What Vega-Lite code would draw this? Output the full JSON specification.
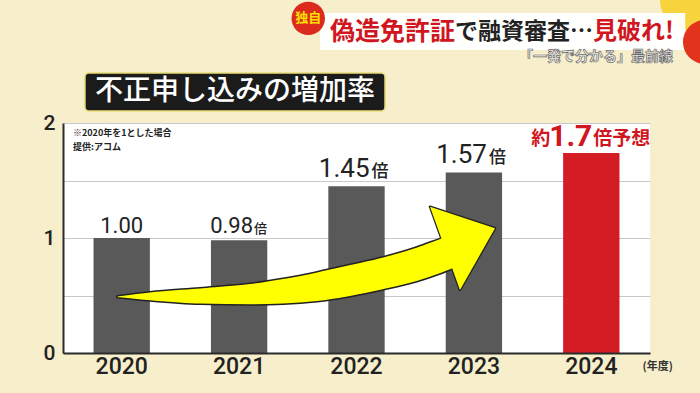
{
  "$schema": "https://vega.github.io/schema/vega-lite/v6.json",
  "width": 587,
  "height": 230,
  "autosize": {"type": "none"},
  "padding": {"left": 63, "top": 123, "right": 50, "bottom": 40},
  "background": "#f7eecb",
  "config": {
    "view": {"fill": "#ffffff", "stroke": null},
    "text": {"font": "Noto Sans CJK JP"}
  },
  "datasets": {
    "bars": [
      {"year": "2020", "value": 1.0, "label": "1.00", "prefix": "", "suffix": ""},
      {"year": "2021", "value": 0.98, "label": "0.98", "prefix": "", "suffix": "倍"},
      {"year": "2022", "value": 1.45, "label": "1.45", "prefix": "", "suffix": "倍"},
      {"year": "2023", "value": 1.57, "label": "1.57", "prefix": "", "suffix": "倍"},
      {"year": "2024", "value": 1.74, "label": "1.7", "prefix": "約", "suffix": "倍予想"}
    ],
    "arrow": [
      {"u": 0.46, "top": 0.498, "bot": 0.481},
      {"u": 0.741, "top": 0.533, "bot": 0.452},
      {"u": 1.167, "top": 0.568, "bot": 0.423},
      {"u": 1.593, "top": 0.606, "bot": 0.417},
      {"u": 1.874, "top": 0.65, "bot": 0.423},
      {"u": 2.164, "top": 0.707, "bot": 0.446},
      {"u": 2.445, "top": 0.771, "bot": 0.49},
      {"u": 2.726, "top": 0.837, "bot": 0.548},
      {"u": 3.015, "top": 0.924, "bot": 0.62},
      {"u": 3.211, "top": 0.997, "bot": 0.687},
      {"u": 3.339, "top": 1.043, "bot": 0.739}
    ]
  },
  "layer": [
    {
      "data": {"name": "bars"},
      "encoding": {
        "x": {
          "field": "year", "type": "nominal",
          "scale": {"paddingInner": 0.52, "paddingOuter": 0.26},
          "axis": {
            "title": "(年度)", "titleX": 579, "titleY": 13, "titleAlign": "left", "titleAnchor": null,
            "titleBaseline": "middle", "titleFontSize": 11, "titleFont": "Noto Sans CJK JP", "titleFontWeight": "bold", "titleColor": "#333333",
            "labelAngle": 0, "labelFont": "Roboto", "labelFontWeight": 500, "labelFontSize": 23, "labelColor": "#222222",
            "labelBaseline": "middle", "labelPadding": 13,
            "ticks": false, "tickSize": 0, "grid": false,
            "domainColor": "#2b2b2b", "domainWidth": 2, "zindex": 1
          }
        },
        "y": {
          "field": "value", "type": "quantitative",
          "scale": {"domain": [0, 2], "nice": false},
          "axis": {
            "title": null, "values": [0, 0.5, 1, 1.5, 2],
            "labelExpr": "datum.value % 1 === 0 ? format(datum.value, 'd') : ''",
            "labelFont": "Roboto", "labelFontWeight": 500, "labelFontSize": 21, "labelColor": "#222222", "labelPadding": 8,
            "ticks": false, "tickSize": 0,
            "grid": true, "gridColor": "#c8c8c8", "gridWidth": 1,
            "domainColor": "#2b2b2b", "domainWidth": 2
          }
        }
      },
      "layer": [
        {
          "mark": {"type": "bar"},
          "encoding": {
            "color": {"condition": {"test": "datum.year === '2024'", "value": "#d31c24"}, "value": "#595959"}
          }
        },
        {
          "transform": [{"filter": "datum.year === '2020'"}],
          "mark": {"type": "text", "align": "center", "baseline": "alphabetic", "dy": -5, "fontSize": 22, "font": "Roboto", "fontWeight": "normal", "fill": "#222222"},
          "encoding": {"text": {"field": "label"}}
        },
        {
          "transform": [{"filter": "datum.year === '2021'"}],
          "mark": {"type": "text", "align": "right", "baseline": "alphabetic", "dx": 14, "dy": -7, "fontSize": 22, "font": "Roboto", "fontWeight": "normal", "fill": "#222222"},
          "encoding": {"text": {"field": "label"}}
        },
        {
          "transform": [{"filter": "datum.year === '2021'"}],
          "mark": {"type": "text", "align": "left", "baseline": "alphabetic", "dx": 15, "dy": -7, "fontSize": 13, "fontWeight": 500, "fill": "#222222"},
          "encoding": {"text": {"field": "suffix"}}
        },
        {
          "transform": [{"filter": "datum.year === '2022' || datum.year === '2023'"}],
          "mark": {"type": "text", "align": "right", "baseline": "alphabetic", "dx": 13, "dy": -9, "fontSize": 26, "font": "Roboto", "fontWeight": "normal", "fill": "#222222"},
          "encoding": {"text": {"field": "label"}}
        },
        {
          "transform": [{"filter": "datum.year === '2022' || datum.year === '2023'"}],
          "mark": {"type": "text", "align": "left", "baseline": "alphabetic", "dx": 15, "dy": -9, "fontSize": 17, "fontWeight": 500, "fill": "#222222"},
          "encoding": {"text": {"field": "suffix"}}
        },
        {
          "transform": [{"filter": "datum.year === '2024'"}],
          "mark": {"type": "text", "align": "right", "baseline": "alphabetic", "dx": -41, "dy": -8, "fontSize": 19, "fontWeight": "bold", "fill": "#d0161f"},
          "encoding": {"text": {"field": "prefix"}}
        },
        {
          "transform": [{"filter": "datum.year === '2024'"}],
          "mark": {"type": "text", "align": "right", "baseline": "alphabetic", "dx": 1, "dy": -7, "fontSize": 30, "font": "Roboto", "fontWeight": "bold", "fill": "#d0161f"},
          "encoding": {"text": {"field": "label"}}
        },
        {
          "transform": [{"filter": "datum.year === '2024'"}],
          "mark": {"type": "text", "align": "left", "baseline": "alphabetic", "dx": 2, "dy": -8, "fontSize": 19, "fontWeight": "bold", "fill": "#d0161f"},
          "encoding": {"text": {"field": "suffix"}}
        }
      ]
    },
    {
      "layer": [
        {
          "data": {"values": [{}]},
          "mark": {"type": "point", "shape": "circle", "filled": true, "size": 3600, "fill": "#f6cf2e", "opacity": 0.9, "stroke": null},
          "encoding": {
            "x": {"datum": 5.34, "type": "quantitative", "scale": {"domain": [0, 5], "nice": false}, "axis": null},
            "y": {"datum": 3.07, "type": "quantitative", "scale": {"domain": [0, 2], "nice": false}, "axis": null}
          }
        },
        {
          "data": {"values": [{}]},
          "mark": {"type": "rect", "fill": "#ffffff", "opacity": 0.96},
          "encoding": {
            "x": {"datum": 2.189, "type": "quantitative", "scale": {"domain": [0, 5], "nice": false}, "axis": null},
            "x2": {"datum": 5.3},
            "y": {"datum": 2.957, "type": "quantitative", "scale": {"domain": [0, 2], "nice": false}, "axis": null},
            "y2": {"datum": 2.635}
          }
        },
        {
          "data": {"values": [{}]},
          "mark": {"type": "point", "shape": "circle", "filled": true, "size": 1936, "fill": "#e2341d", "opacity": 1, "stroke": null},
          "encoding": {
            "x": {"datum": 5.468, "type": "quantitative", "scale": {"domain": [0, 5], "nice": false}, "axis": null},
            "y": {"datum": 2.704, "type": "quantitative", "scale": {"domain": [0, 2], "nice": false}, "axis": null}
          }
        },
        {
          "data": {"values": [{}]},
          "mark": {"type": "point", "shape": "circle", "filled": true, "size": 1116, "fill": "#dc2a1c", "opacity": 1, "stroke": null},
          "encoding": {
            "x": {"datum": 2.089, "type": "quantitative", "scale": {"domain": [0, 5], "nice": false}, "axis": null},
            "y": {"datum": 2.91, "type": "quantitative", "scale": {"domain": [0, 2], "nice": false}, "axis": null}
          }
        },
        {
          "data": {"values": [{}]},
          "mark": {"type": "text", "text": "独自", "align": "center", "baseline": "middle", "fontSize": 13, "fontWeight": "bold", "fill": "#ffe100"},
          "encoding": {
            "x": {"datum": 2.089, "type": "quantitative", "scale": {"domain": [0, 5], "nice": false}, "axis": null},
            "y": {"datum": 2.91, "type": "quantitative", "scale": {"domain": [0, 2], "nice": false}, "axis": null}
          }
        },
        {
          "data": {"values": [{}]},
          "mark": {"type": "text", "text": "偽造免許証", "align": "left", "baseline": "middle", "fontSize": 25, "fontWeight": "bold", "fill": "#d0161f"},
          "encoding": {
            "x": {"datum": 2.274, "type": "quantitative", "scale": {"domain": [0, 5], "nice": false}, "axis": null},
            "y": {"datum": 2.787, "type": "quantitative", "scale": {"domain": [0, 2], "nice": false}, "axis": null}
          }
        },
        {
          "data": {"values": [{}]},
          "mark": {"type": "text", "text": "で融資審査…", "align": "left", "baseline": "middle", "fontSize": 23, "fontWeight": "bold", "fill": "#222222"},
          "encoding": {
            "x": {"datum": 3.339, "type": "quantitative", "scale": {"domain": [0, 5], "nice": false}, "axis": null},
            "y": {"datum": 2.787, "type": "quantitative", "scale": {"domain": [0, 2], "nice": false}, "axis": null}
          }
        },
        {
          "data": {"values": [{}]},
          "mark": {"type": "text", "text": "見破れ!", "align": "left", "baseline": "middle", "fontSize": 24, "fontWeight": "bold", "fill": "#d0161f"},
          "encoding": {
            "x": {"datum": 4.514, "type": "quantitative", "scale": {"domain": [0, 5], "nice": false}, "axis": null},
            "y": {"datum": 2.787, "type": "quantitative", "scale": {"domain": [0, 2], "nice": false}, "axis": null}
          }
        },
        {
          "data": {"values": [{}]},
          "mark": {"type": "text", "text": "「一発で分かる」最前線", "align": "right", "baseline": "middle", "fontSize": 14, "fontWeight": "bold", "fill": "#f2f2f2", "stroke": "#6a6a6a", "strokeWidth": 0.7},
          "encoding": {
            "x": {"datum": 5.196, "type": "quantitative", "scale": {"domain": [0, 5], "nice": false}, "axis": null},
            "y": {"datum": 2.57, "type": "quantitative", "scale": {"domain": [0, 2], "nice": false}, "axis": null}
          }
        },
        {
          "data": {"values": [{}]},
          "mark": {"type": "rect", "fill": "#1b1b1b", "stroke": "#e9dc7a", "strokeWidth": 1.5, "cornerRadius": 4},
          "encoding": {
            "x": {"datum": 0.187, "type": "quantitative", "scale": {"domain": [0, 5], "nice": false}, "axis": null},
            "x2": {"datum": 2.743},
            "y": {"datum": 2.435, "type": "quantitative", "scale": {"domain": [0, 2], "nice": false}, "axis": null},
            "y2": {"datum": 2.104}
          }
        },
        {
          "data": {"values": [{}]},
          "mark": {"type": "text", "text": "不正申し込みの増加率", "align": "center", "baseline": "middle", "fontSize": 28, "fontWeight": 500, "fill": "#ffffff"},
          "encoding": {
            "x": {"datum": 1.465, "type": "quantitative", "scale": {"domain": [0, 5], "nice": false}, "axis": null},
            "y": {"datum": 2.27, "type": "quantitative", "scale": {"domain": [0, 2], "nice": false}, "axis": null}
          }
        },
        {
          "data": {"values": [{}]},
          "mark": {"type": "text", "text": "※2020年を1とした場合", "align": "left", "baseline": "middle", "fontSize": 9, "fontWeight": "bold", "fill": "#222222"},
          "encoding": {
            "x": {"datum": 0.085, "type": "quantitative", "scale": {"domain": [0, 5], "nice": false}, "axis": null},
            "y": {"datum": 1.91, "type": "quantitative", "scale": {"domain": [0, 2], "nice": false}, "axis": null}
          }
        },
        {
          "data": {"values": [{}]},
          "mark": {"type": "text", "text": "提供:アコム", "align": "left", "baseline": "middle", "fontSize": 9, "fontWeight": "bold", "fill": "#222222"},
          "encoding": {
            "x": {"datum": 0.085, "type": "quantitative", "scale": {"domain": [0, 5], "nice": false}, "axis": null},
            "y": {"datum": 1.795, "type": "quantitative", "scale": {"domain": [0, 2], "nice": false}, "axis": null}
          }
        },
        {
          "data": {"values": [{}]},
          "mark": {"type": "point", "shape": "M -0.634 -0.7 L 0.666 -0.268 L -0.034 0.966 Z", "size": 10000, "filled": true, "fill": "#ffff00", "stroke": "#222222", "strokeWidth": 2.5, "strokeJoin": "round", "opacity": 1},
          "encoding": {
            "x": {"datum": 3.396, "type": "quantitative", "scale": {"domain": [0, 5], "nice": false}, "axis": null},
            "y": {"datum": 0.968, "type": "quantitative", "scale": {"domain": [0, 2], "nice": false}, "axis": null}
          }
        },
        {
          "data": {"name": "arrow"},
          "mark": {"type": "area", "interpolate": "monotone", "fill": "#ffff00", "stroke": "#222222", "strokeWidth": 1.5, "strokeJoin": "round", "opacity": 1, "fillOpacity": 1},
          "encoding": {
            "x": {"field": "u", "type": "quantitative", "scale": {"domain": [0, 5], "nice": false}, "axis": null},
            "y": {"field": "top", "type": "quantitative", "scale": {"domain": [0, 2], "nice": false}, "axis": null},
            "y2": {"field": "bot"}
          }
        },
        {
          "data": {"values": [{}]},
          "mark": {"type": "point", "shape": "M -0.634 -0.7 L 0.666 -0.268 L -0.034 0.966 Z", "size": 10000, "filled": true, "fill": "#ffff00", "stroke": null, "opacity": 1},
          "encoding": {
            "x": {"datum": 3.396, "type": "quantitative", "scale": {"domain": [0, 5], "nice": false}, "axis": null},
            "y": {"datum": 0.968, "type": "quantitative", "scale": {"domain": [0, 2], "nice": false}, "axis": null}
          }
        }
      ]
    }
  ],
  "resolve": {
    "scale": {"x": "independent", "y": "independent"},
    "axis": {"x": "independent", "y": "independent"}
  }
}
